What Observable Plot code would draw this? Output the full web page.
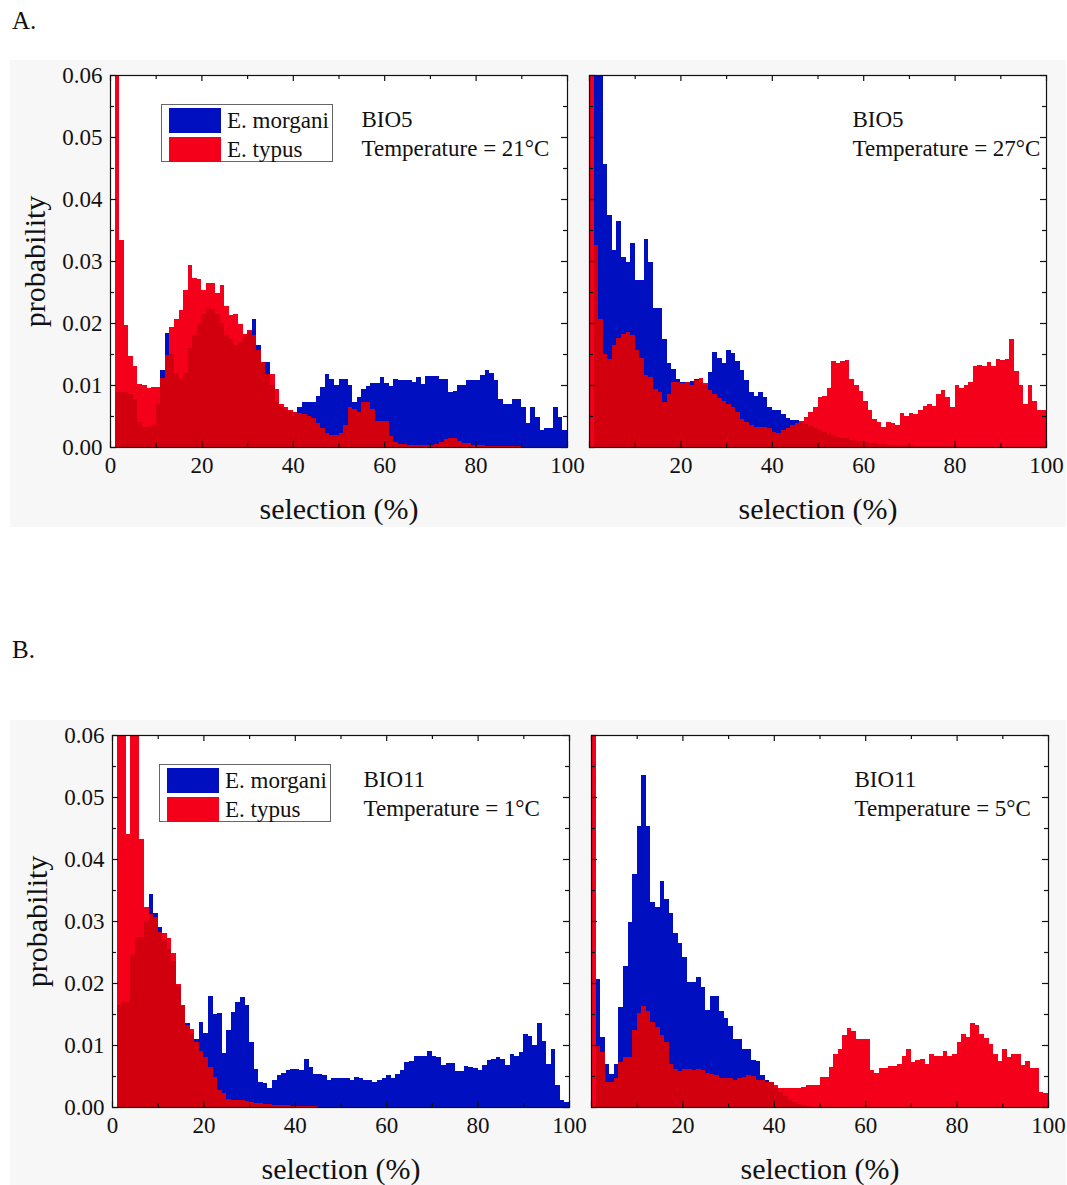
<!DOCTYPE html>
<html><head><meta charset="utf-8">
<script src="https://cdn.jsdelivr.net/npm/d3@7"></script>
<script src="https://cdn.jsdelivr.net/npm/@observablehq/plot@0.6"></script>
<style>
body{margin:0;background:#fff;font-family:"Liberation Serif","Times New Roman",serif;color:#111;}
#root{position:relative;width:1067px;height:1185px;overflow:hidden;background:#fff;}
.bg{position:absolute;background:#f7f7f7;}
.panel{position:absolute;}
.plabel{position:absolute;font-size:25px;line-height:25px;}
.legend{position:absolute;border:1px solid #666;background:#fff;box-sizing:border-box;}
.sw{position:absolute;width:52px;height:25px;}
.lt{position:absolute;font-size:23px;line-height:23px;white-space:nowrap;}
</style></head>
<body><div id="root"></div>
<script>
// selection bins (%), lower edges of 1%-wide bins
const binStart = d3.range(100);
const xTickLabelsLeft = [0, 20, 40, 60, 80, 100];
const xTickLabelsRight = [20, 40, 60, 80, 100];
const xTickMarks = [0, 10, 20, 30, 40, 50, 60, 70, 80, 90, 100];
const yTickLabels = [0, 0.01, 0.02, 0.03, 0.04, 0.05, 0.06];
const yTickMarks = [0, 0.005, 0.01, 0.015, 0.02, 0.025, 0.03, 0.035, 0.04, 0.045, 0.05, 0.055, 0.06];
const seriesNames = ["E. morgani", "E. typus"];

// A. BIO5, Temperature = 21°C
const morganiBio5T21 = [
 0,0.0089,0.0089,0.0089,0.0085,0.0078,0.0040,0.0032,0.0032,0.0035,
 0.0070,0.0124,0.0184,0.0150,0.0120,0.0110,0.0120,0.0160,0.0180,0.0200,
 0.0215,0.0222,0.0223,0.0215,0.0200,0.0180,0.0175,0.0165,0.0170,0.0180,
 0.0185,0.0206,0.0164,0.0137,0.0137,0.0100,0.0075,0.0065,0.0060,0.0058,
 0.0057,0.0065,0.0073,0.0073,0.0073,0.0083,0.0097,0.0118,0.0110,0.0100,
 0.0110,0.0109,0.0100,0.0073,0.0081,0.0094,0.0098,0.0103,0.0103,0.0113,
 0.0103,0.0098,0.0110,0.0108,0.0108,0.0108,0.0105,0.0113,0.0102,0.0114,
 0.0114,0.0114,0.0109,0.0109,0.0089,0.0091,0.0100,0.0100,0.0108,0.0108,
 0.0108,0.0116,0.0124,0.0119,0.0108,0.0078,0.0070,0.0070,0.0078,0.0078,
 0.0065,0.0038,0.0065,0.0048,0.0028,0.0030,0.0030,0.0065,0.0048,0.0027];
const typusBio5T21 = [
 0,0.065,0.0334,0.0196,0.0146,0.0130,0.0102,0.0100,0.0095,0.0096,
 0.0097,0.0112,0.0148,0.0194,0.0206,0.0221,0.0253,0.0294,0.0273,0.0271,
 0.0253,0.0265,0.0265,0.0248,0.0261,0.0227,0.0213,0.0214,0.0199,0.0182,
 0.0188,0.0180,0.0156,0.0137,0.0118,0.0118,0.0094,0.0070,0.0065,0.0059,
 0.0057,0.0055,0.0053,0.0050,0.0046,0.0038,0.0030,0.0022,0.0019,0.0019,
 0.0022,0.0035,0.0065,0.0062,0.0057,0.0073,0.0073,0.0062,0.0042,0.0042,
 0.0042,0.0017,0.0008,0.0005,0.0005,0.0004,0.0004,0.0004,0.0003,0.0004,
 0.0004,0.0005,0.0008,0.0013,0.0015,0.0014,0.0010,0.0007,0.0006,0.0004,
 0.0003,0.0003,0.0002,0.0002,0.0002,0.0001,0.0001,0.0001,0.0001,0.0001,
 0,0,0,0,0,0,0,0,0,0];

// A. BIO5, Temperature = 27°C
const morganiBio5T27 = [
 0,0.065,0.065,0.0456,0.0374,0.0317,0.0364,0.0306,0.0299,0.0329,
 0.0269,0.0269,0.0336,0.0299,0.0224,0.0224,0.0175,0.0135,0.0126,0.0110,
 0.0105,0.0105,0.0107,0.0109,0.0105,0.0100,0.0121,0.0153,0.0143,0.0135,
 0.0157,0.0151,0.0139,0.0124,0.0108,0.0089,0.0083,0.0089,0.0080,0.0065,
 0.0060,0.0059,0.0054,0.0047,0.0044,0.0044,0.0040,0.0037,0.0034,0.0031,
 0.0028,0.0025,0.0022,0.0019,0.0016,0.0015,0.0014,0.0012,0.0010,0.0009,
 0.0008,0.0007,0.0006,0.0005,0.0005,0.0004,0.0004,0.0003,0.0003,0.0003,
 0.0003,0.0002,0.0002,0.0002,0.0002,0.0001,0.0001,0.0001,0.0001,0.0001,
 0,0,0,0,0,0,0,0,0,0,
 0,0,0,0,0,0,0,0,0,0];
const typusBio5T27 = [
 0.065,0.0326,0.0207,0.0150,0.0142,0.0164,0.0176,0.0182,0.0186,0.0180,
 0.0156,0.0143,0.0116,0.0113,0.0094,0.0088,0.0072,0.0085,0.0105,0.0105,
 0.0103,0.0105,0.0100,0.0108,0.0111,0.0103,0.0092,0.0086,0.0079,0.0075,
 0.0069,0.0065,0.0057,0.0045,0.0040,0.0035,0.0033,0.0033,0.0033,0.0030,
 0.0025,0.0022,0.0027,0.0030,0.0035,0.0038,0.0042,0.0048,0.0056,0.0065,
 0.0080,0.0082,0.0095,0.0138,0.0135,0.0138,0.0140,0.0110,0.0100,0.0090,
 0.0075,0.0060,0.0045,0.0040,0.0033,0.0040,0.0038,0.0036,0.0055,0.0050,
 0.0055,0.0053,0.0060,0.0066,0.0070,0.0066,0.0085,0.0092,0.0080,0.0065,
 0.0100,0.0095,0.0100,0.0105,0.0130,0.0132,0.0130,0.0137,0.0130,0.0142,
 0.0140,0.0142,0.0175,0.0122,0.0100,0.0070,0.0100,0.0075,0.0060,0.0060];

// B. BIO11, Temperature = 1°C
const morganiBio11T1 = [
 0,0.0165,0.0170,0.0170,0.0245,0.0275,0.0275,0.0300,0.0343,0.0313,
 0.0291,0.0270,0.0255,0.0235,0.0195,0.0165,0.0135,0.0120,0.0109,0.0137,
 0.0119,0.0179,0.0150,0.0151,0.0087,0.0124,0.0153,0.0170,0.0177,0.0164,
 0.0105,0.0062,0.0040,0.0038,0.0030,0.0044,0.0051,0.0055,0.0059,0.0062,
 0.0062,0.0060,0.0077,0.0065,0.0053,0.0053,0.0051,0.0043,0.0047,0.0046,
 0.0047,0.0047,0.0043,0.0048,0.0047,0.0044,0.0043,0.0040,0.0044,0.0046,
 0.0051,0.0046,0.0053,0.0060,0.0073,0.0074,0.0083,0.0083,0.0082,0.0090,
 0.0082,0.0081,0.0067,0.0071,0.0071,0.0058,0.0058,0.0066,0.0065,0.0063,
 0.0060,0.0067,0.0076,0.0078,0.0080,0.0078,0.0067,0.0085,0.0083,0.0089,
 0.0117,0.0114,0.0100,0.0135,0.0107,0.0070,0.0094,0.0035,0.0012,0.0008];
const typusBio11T1 = [
 0,0.065,0.065,0.0441,0.065,0.065,0.0433,0.0323,0.0312,0.0307,
 0.0283,0.0280,0.0272,0.0248,0.0199,0.0164,0.0133,0.0126,0.0105,0.0091,
 0.0080,0.0065,0.0048,0.0027,0.0023,0.0013,0.0011,0.0011,0.0011,0.0010,
 0.0008,0.0007,0.0006,0.0005,0.0005,0.0004,0.0004,0.0003,0.0003,0.0002,
 0.0002,0.0001,0.0001,0.0001,0.0001,0,0,0,0,0,
 0,0,0,0,0,0,0,0,0,0,
 0,0,0,0,0,0,0,0,0,0,
 0,0,0,0,0,0,0,0,0,0,
 0,0,0,0,0,0,0,0,0,0,
 0,0,0,0,0,0,0,0,0,0];

// B. BIO11, Temperature = 5°C
const morganiBio11T5 = [
 0,0.0207,0.0113,0.0070,0.0053,0.0070,0.0161,0.0227,0.0299,0.0376,
 0.0453,0.0535,0.0453,0.0331,0.0323,0.0365,0.0336,0.0313,0.0280,0.0265,
 0.0242,0.0202,0.0202,0.0210,0.0194,0.0156,0.0179,0.0179,0.0155,0.0143,
 0.0130,0.0110,0.0110,0.0094,0.0094,0.0076,0.0075,0.0051,0.0043,0.0040,
 0.0030,0.0025,0.0018,0.0012,0.0008,0.0005,0.0003,0.0002,0,0,
 0,0,0,0,0,0,0,0,0,0,
 0,0,0,0,0,0,0,0,0,0,
 0,0,0,0,0,0,0,0,0,0,
 0,0,0,0,0,0,0,0,0,0,
 0,0,0,0,0,0,0,0,0,0];
const typusBio11T5 = [
 0.065,0.0098,0.0089,0.0040,0.0040,0.0046,0.0073,0.0081,0.0081,0.0124,
 0.0151,0.0163,0.0155,0.0137,0.0129,0.0116,0.0105,0.0070,0.0062,0.0058,
 0.0062,0.0062,0.0060,0.0062,0.0060,0.0055,0.0053,0.0051,0.0047,0.0046,
 0.0047,0.0044,0.0046,0.0048,0.0051,0.0050,0.0044,0.0043,0.0040,0.0040,
 0.0035,0.0030,0.0030,0.0030,0.0030,0.0031,0.0033,0.0035,0.0035,0.0035,
 0.0048,0.0048,0.0065,0.0086,0.0093,0.0116,0.0128,0.0123,0.0109,0.0110,
 0.0110,0.0059,0.0055,0.0063,0.0063,0.0066,0.0066,0.0069,0.0082,0.0093,
 0.0073,0.0076,0.0078,0.0069,0.0086,0.0083,0.0083,0.0091,0.0082,0.0086,
 0.0105,0.0118,0.0113,0.0136,0.0132,0.0117,0.0112,0.0102,0.0085,0.0074,
 0.0094,0.0080,0.0085,0.0085,0.0067,0.0074,0.0063,0.0063,0.0024,0.0022];

const BLUE = "#0010c0", RED = "#f4001a", OVER = "#d2000f";
const root = document.getElementById("root");

function addDiv(cls, style, text) {
  const d = document.createElement("div");
  d.className = cls;
  Object.assign(d.style, style);
  if (text != null) d.textContent = text;
  root.appendChild(d);
  return d;
}

addDiv("bg", {left: "10px", top: "60px", width: "1056px", height: "467px"});
addDiv("bg", {left: "10px", top: "720px", width: "1056px", height: "465px"});
addDiv("plabel", {left: "12px", top: "8px"}, "A.");
addDiv("plabel", {left: "12px", top: "637px"}, "B.");

function panel({blue, red, frameLeft, frameTop, showY, xLabels, bio, temp, annX}) {
  const W = 457, H = 372;
  const ml = showY ? 98 : 18, mr = 18, mt = 15, mb = 82;
  const rows = binStart.map((b, i) => ({x1: b, x2: b + 1, blue: blue[i], red: red[i], over: Math.min(blue[i], red[i])}));
  const tMaj = 6, tMin = 4;
  const xMaj = xTickMarks.filter(d => d % 20 === 0), xMin = xTickMarks.filter(d => d % 20 !== 0);
  const yMaj = yTickMarks.filter((d, i) => i % 2 === 0), yMin = yTickMarks.filter((d, i) => i % 2 === 1);
  const tk = {stroke: "#111", strokeWidth: 1.2};
  const marks = [
    Plot.frame({fill: "white", stroke: "none"}),
    Plot.rectY(rows, {x1: "x1", x2: "x2", y: "blue", fill: BLUE, clip: true, shapeRendering: "crispEdges"}),
    Plot.rectY(rows, {x1: "x1", x2: "x2", y: "red", fill: RED, clip: true, shapeRendering: "crispEdges"}),
    Plot.rectY(rows, {x1: "x1", x2: "x2", y: "over", fill: OVER, clip: true, shapeRendering: "crispEdges"}),
    Plot.frame({stroke: "#111", strokeWidth: 1.2}),
    Plot.ruleX(xMaj, {x: d => d, insetTop: H - tMaj, ...tk}),
    Plot.ruleX(xMaj, {x: d => d, insetBottom: H - tMaj, ...tk}),
    Plot.ruleX(xMin, {x: d => d, insetTop: H - tMin, ...tk}),
    Plot.ruleX(xMin, {x: d => d, insetBottom: H - tMin, ...tk}),
    Plot.ruleY(yMaj, {y: d => d, insetRight: W - tMaj, ...tk}),
    Plot.ruleY(yMaj, {y: d => d, insetLeft: W - tMaj, ...tk}),
    Plot.ruleY(yMin, {y: d => d, insetRight: W - tMin, ...tk}),
    Plot.ruleY(yMin, {y: d => d, insetLeft: W - tMin, ...tk}),
    Plot.text([bio], {frameAnchor: "top-left", dx: annX, dy: 51, textAnchor: "start", lineAnchor: "bottom", fontSize: 23, fill: "#111"}),
    Plot.text([temp], {frameAnchor: "top-left", dx: annX, dy: 80, textAnchor: "start", lineAnchor: "bottom", fontSize: 23, fill: "#111"}),
    Plot.text(["selection (%)"], {frameAnchor: "bottom", dy: 62, textAnchor: "middle", lineAnchor: "middle", fontSize: 30, fill: "#111"})
  ];
  if (showY) marks.push(Plot.text(["probability"], {frameAnchor: "left", dx: -75, rotate: -90, textAnchor: "middle", lineAnchor: "middle", fontSize: 30, fill: "#111"}));
  const chart = Plot.plot({
    width: ml + W + mr, height: mt + H + mb,
    marginLeft: ml, marginRight: mr, marginTop: mt, marginBottom: mb,
    style: {fontFamily: "'Liberation Serif', 'Times New Roman', serif", fontSize: "23px", background: "transparent", color: "#111", overflow: "visible"},
    x: {domain: [0, 100], ticks: xLabels, tickSize: 0, tickPadding: 9, label: null},
    y: {domain: [0, 0.06], ticks: yTickLabels, tickFormat: d3.format(".2f"), tickSize: 0, tickPadding: 8, label: null, axis: showY ? "left" : null},
    marks
  });
  chart.classList.add("panel");
  chart.style.left = (frameLeft - ml) + "px";
  chart.style.top = (frameTop - mt) + "px";
  root.appendChild(chart);
}

function legend(left, top) {
  const box = addDiv("legend", {left: left + "px", top: top + "px", width: "172px", height: "58px"});
  const colors = [BLUE, RED];
  seriesNames.forEach((name, i) => {
    const s = document.createElement("div");
    s.className = "sw";
    Object.assign(s.style, {left: "7px", top: (3 + i * 29) + "px", background: colors[i]});
    box.appendChild(s);
    const t = document.createElement("div");
    t.className = "lt";
    Object.assign(t.style, {left: "65px", top: (4 + i * 29) + "px"});
    t.textContent = name;
    box.appendChild(t);
  });
}

panel({blue: morganiBio5T21, red: typusBio5T21, frameLeft: 110, frameTop: 75, showY: true, xLabels: xTickLabelsLeft, bio: "BIO5", temp: "Temperature = 21°C", annX: 251});
panel({blue: morganiBio5T27, red: typusBio5T27, frameLeft: 589, frameTop: 75, showY: false, xLabels: xTickLabelsRight, bio: "BIO5", temp: "Temperature = 27°C", annX: 263});
panel({blue: morganiBio11T1, red: typusBio11T1, frameLeft: 112, frameTop: 735, showY: true, xLabels: xTickLabelsLeft, bio: "BIO11", temp: "Temperature = 1°C", annX: 251});
panel({blue: morganiBio11T5, red: typusBio11T5, frameLeft: 591, frameTop: 735, showY: false, xLabels: xTickLabelsRight, bio: "BIO11", temp: "Temperature = 5°C", annX: 263});
legend(161, 104);
legend(159, 764);
</script>
</body></html>
